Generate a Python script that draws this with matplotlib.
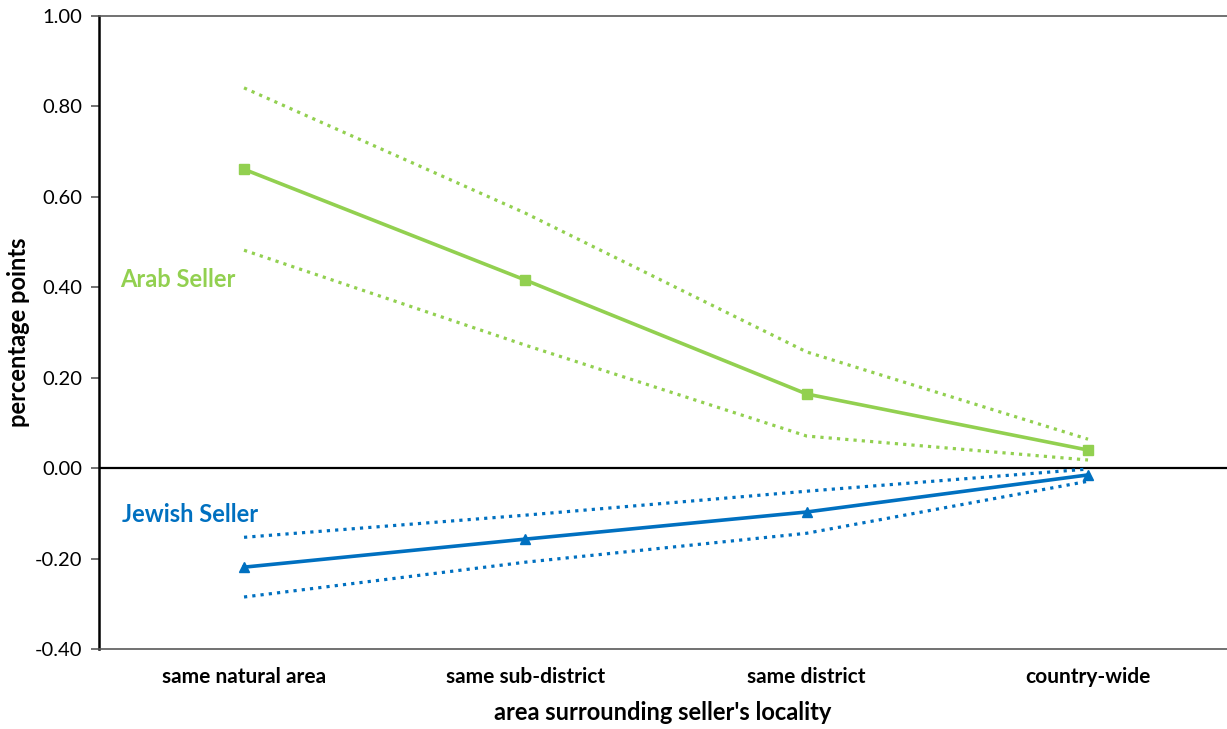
import matplotlib.pyplot as plt

# Estimated effects by area around the seller's locality
areas = ['same natural area', 'same sub-district', 'same district', 'country-wide']

arab = [0.661, 0.416, 0.164, 0.040]
arab_upper = [0.841, 0.564, 0.257, 0.064]
arab_lower = [0.482, 0.272, 0.071, 0.018]

jewish = [-0.219, -0.157, -0.097, -0.015]
jewish_upper = [-0.153, -0.104, -0.051, -0.002]
jewish_lower = [-0.285, -0.208, -0.144, -0.029]

yticks = [-0.40, -0.20, 0.00, 0.20, 0.40, 0.60, 0.80, 1.00]

green = '#92D050'
blue = '#0070C0'

plt.rcParams['font.family'] = ['Lato', 'DejaVu Sans']

fig = plt.figure(figsize=(12.27, 7.29), dpi=100)
ax = fig.add_axes([99 / 1227, 1 - 649 / 729, 1 - 99 / 1227, (649 - 16) / 729])

x = list(range(len(areas)))
dotted = (0, (1, 1.6))

ax.axhline(0, color='black', lw=1.6, zorder=1)

ax.plot(x, arab_upper, color=green, lw=2.3, linestyle=dotted, zorder=2)
ax.plot(x, arab_lower, color=green, lw=2.3, linestyle=dotted, zorder=2)
ax.plot(x, arab, color=green, lw=2.6, marker='s', markersize=7, zorder=3)

ax.plot(x, jewish_upper, color=blue, lw=2.3, linestyle=dotted, zorder=2)
ax.plot(x, jewish_lower, color=blue, lw=2.3, linestyle=dotted, zorder=2)
ax.plot(x, jewish, color=blue, lw=2.6, marker='^', markersize=7.5, zorder=3)

ax.text(-0.44, 0.418, 'Arab Seller', color=green, fontsize=17, fontweight='bold', va='center')
ax.text(-0.433, -0.103, 'Jewish Seller', color=blue, fontsize=17, fontweight='bold', va='center')

ax.set_xlim(-0.5155, 3.494)
ax.set_ylim(-0.40, 1.00)
ax.set_yticks(yticks)
ax.set_yticklabels([f'{v:.2f}' for v in yticks], fontsize=14.5)
ax.set_xticks(x)
ax.set_xticklabels(areas, fontsize=15, fontweight='bold')
ax.tick_params(axis='x', length=0, pad=13)
ax.tick_params(axis='y', length=6, width=1.2, color='#595959', pad=6)

ax.set_xlabel("area surrounding seller's locality", fontsize=17, fontweight='bold', labelpad=10)
ax.set_ylabel('percentage points', fontsize=17, fontweight='bold')
ax.yaxis.set_label_coords(-0.061, 0.5)

ax.spines['right'].set_visible(False)
ax.spines['left'].set_color('black')
ax.spines['left'].set_linewidth(1.8)
for side in ('top', 'bottom'):
    ax.spines[side].set_color('#595959')
    ax.spines[side].set_linewidth(1.2)

fig.savefig('out.png', dpi=100)
